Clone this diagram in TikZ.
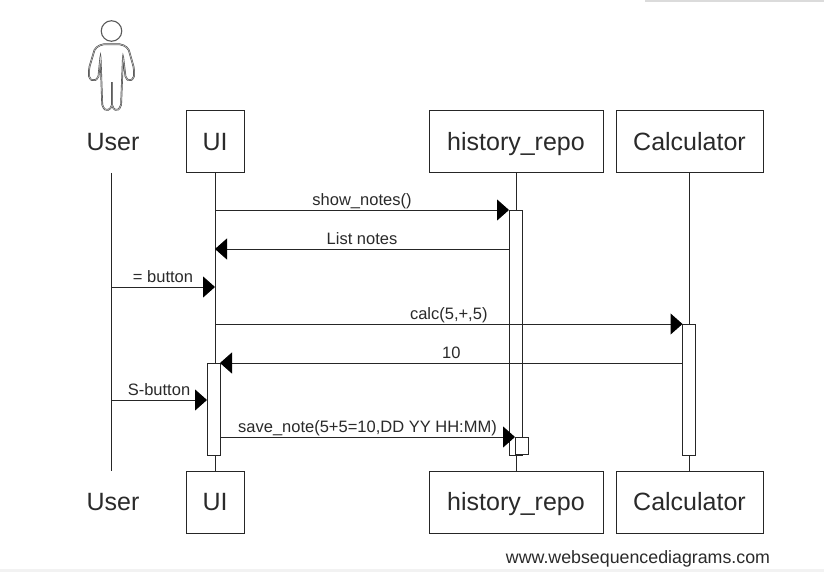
\documentclass[tikz,border=0pt]{standalone}
\usepackage{fontspec}
\setmainfont{Liberation Sans}
\usepackage{xcolor}
\usetikzlibrary{positioning, arrows.meta}
\definecolor{inkline}{HTML}{262626}
\definecolor{inktext}{HTML}{2A2A2A}

\begin{document}
\begin{tikzpicture}[ x = 1pt
                     , y = -1pt
                     , line width = 1pt
                     , >={Triangle[width=21pt, length=12pt, color=black]}
                     , color = inkline
                     , text = inktext
                     , lifebox/.style = { rectangle
                                        , draw = inkline
                                        , fill = white
                                        , align = center
                                        , font = \fontsize{25}{28}\selectfont
                                        , inner sep = 0pt
                                        , outer sep = 0pt
                                        , text height = 21pt
                                        , text depth = 4pt
                                        , minimum height = 62pt }
                     , actorname/.style = { font = \fontsize{25}{28}\selectfont
                                          , text height = 20pt
                                          , text depth = 4pt
                                          , inner sep = 0pt }
                     , bar/.style = { rectangle
                                    , draw = inkline
                                    , fill = white
                                    , inner sep = 0pt
                                    , outer sep = 0pt
                                    , minimum width = 13pt }
                     , msg/.style = { above = 0.7pt
                                    , inner sep = 0pt
                                    , text height = 12pt
                                    , text depth = 3.5pt
                                    , font = \fontsize{16.5}{18}\selectfont }
                     ]

  \useasboundingbox (0,0) rectangle (824,572);
  \fill[white] (0,0) rectangle (824,572);

  % edges of the page
  \fill[black!14] (645,0) rectangle (824,1.7);
  \fill[black!5] (0,568.5) rectangle (824,572);

  % top row
  \node (ui) [lifebox, minimum width = 58pt] at (215,142) {UI};
  \node (repo) [lifebox, minimum width = 174pt, right = 185pt of ui] {history\_repo};
  \node (calc) [lifebox, minimum width = 147pt, right = 13pt of repo] {Calculator};
  \node (user) [actorname] at (113,142.6) {User};

  % bottom row
  \node (uiEnd) [lifebox, minimum width = 58pt, below = 298pt of ui] {UI};
  \node (repoEnd) [lifebox, minimum width = 174pt, below = 298pt of repo] {history\_repo};
  \node (calcEnd) [lifebox, minimum width = 147pt, below = 298pt of calc] {Calculator};
  \node (userEnd) [actorname] at (113,502.4) {User};

  \node (site) [inner sep = 0pt, font = \fontsize{17.8}{20}\selectfont] at (638,559) {www.websequencediagrams.com};

  % stick figure
  \node (head) [circle, draw = black!65, line width = 1.1pt, minimum size = 20.5pt, inner sep = 0pt] at (111.5,31) {};
  \draw[draw = black!70, line width = 0.6pt, double = black!20, double distance = 0.5pt, rounded corners = 2pt]
    (101.7,44.3) -- (121.7,44.3) -- (128.3,48.3) -- (134,68.3) -- (134,78.3) -- (129.3,81)
    -- (125.7,78.3) -- (123,56) -- (121,106.7) -- (116.7,111) -- (112,107)
    -- (112,81) -- (112,107) -- (106.7,111) -- (102.3,106.7) -- (100.5,56)
    -- (98.3,78.3) -- (93.3,81) -- (89,78.3) -- (89,68.3) -- (95,48.3) -- cycle;

  % lifelines
  \coordinate (userTop) at (111,173);
  \coordinate (userBottom) at (111,471);
  \draw (userTop) -- (userBottom);
  \draw (ui) -- (uiEnd);
  \draw (repo) -- (repoEnd);
  \draw (calc) -- (calcEnd);

  % activations
  \node (uiBar) [bar, minimum height = 92pt] at (213.5,409) {};
  \node (repoBar) [bar, minimum height = 245pt] at (515.5,332.5) {};
  \node (calcBar) [bar, minimum height = 131pt] at (689,389.5) {};
  \node (repoSelf) [bar, minimum height = 17pt] at (521.5,445.8) {};

  % rows of the messages
  \coordinate (rowShow) at (0,210);
  \coordinate (rowList) at (0,249);
  \coordinate (rowEq) at (0,287);
  \coordinate (rowCalc) at (0,324);
  \coordinate (rowTen) at (0,363);
  \coordinate (rowSave) at (0,400);
  \coordinate (rowNote) at (0,437);

  \draw[->] (ui |- rowShow) -- node [msg] {show\_notes()} (repoBar.west |- rowShow);
  \draw[->] (repoBar.west |- rowList) -- node [msg] {List notes} (ui |- rowList);
  \draw[->] (userTop |- rowEq) -- node [msg] {= button} (ui |- rowEq);
  \draw[->] (ui |- rowCalc) -- node [msg] {calc(5,+,5)} (calcBar.west |- rowCalc);
  \draw[->] (calcBar.west |- rowTen) -- node [msg] {10} (uiBar.east |- rowTen);
  \draw[->] (userTop |- rowSave) -- node [msg] {S-button} (uiBar.west |- rowSave);
  \draw[->] (uiBar.east |- rowNote) -- node [msg] {save\_note(5+5=10,DD YY HH:MM)} (repoSelf.west |- rowNote);

\end{tikzpicture}
\end{document}
